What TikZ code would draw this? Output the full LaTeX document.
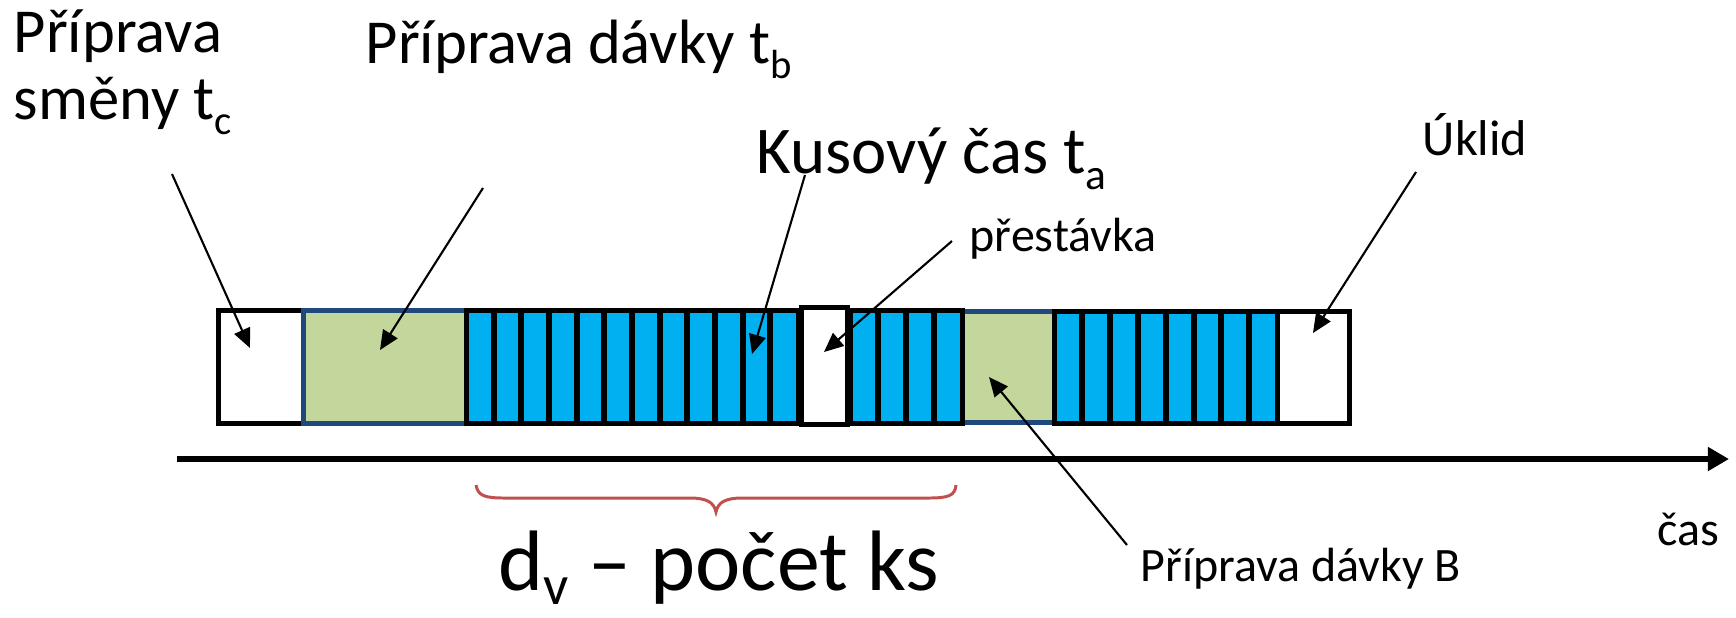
\documentclass[tikz,border=0pt]{standalone}
\usepackage{fontspec}
\setmainfont{Carlito}
\usetikzlibrary{arrows.meta}
\definecolor{grn}{HTML}{C3D69B}
\definecolor{blu}{HTML}{00B0F0}
\definecolor{nav}{HTML}{1F497D}
\definecolor{brc}{HTML}{C0504D}
\newcommand\lowsub[2][0.25em]{\raisebox{-#1}{\scalebox{0.65}{#2}}}
\begin{document}
\begin{tikzpicture}[x=0.01cm,y=-0.01cm,
  lbl/.style={anchor=base west, inner sep=0pt, font=\fontsize{17.8}{20}\selectfont, align=left},
  sml/.style={anchor=base west, inner sep=0pt, font=\fontsize{13.65}{16}\selectfont},
  huge/.style={anchor=base west, inner sep=0pt, font=\fontsize{24.4}{28}\selectfont},
  ptr/.style={draw=black, line width=0.6pt, -{Triangle[length=5.5pt,width=4.8pt]}},
  frm/.style={line width=1.42pt},
  divl/.style={line width=1.7pt, draw=black},
  axis/.style={line width=1.7pt, -{Triangle[length=6pt,width=6.5pt]}},
  brace/.style={draw=brc, line width=0.85pt}
]
\useasboundingbox (0,0) rectangle (1736,617);

% boxes
\draw[frm, fill=white, draw=black] (218.5,310.5) rectangle (303,423.5);
\draw[frm, fill=grn, draw=nav] (303,310.5) rectangle (466,423.5);
\draw[frm, fill=grn, draw=nav] (962,311) rectangle (1054,422);
\draw[frm, fill=blu, draw=black] (466,310.5) rectangle (798,423.5);
\foreach \k in {1,...,11} \draw[divl] ({466+\k*27.67},310.5) -- ({466+\k*27.67},423.5);
\draw[frm, fill=blu, draw=black] (850,310.5) rectangle (962,423.5);
\foreach \k in {1,...,3} \draw[divl] ({850+\k*28},310.5) -- ({850+\k*28},423.5);
\draw[frm, fill=blu, draw=black] (1054,311) rectangle (1277,423.5);
\foreach \k in {1,...,7} \draw[divl] ({1054+\k*27.9},311) -- ({1054+\k*27.9},423.5);
\draw[frm, fill=white, draw=black] (801,307.5) rectangle (847.5,424.5);
\draw[frm, fill=white, draw=black] (1277,311) rectangle (1349.5,423);

% axis
\coordinate (ax0) at (177,459);
\coordinate (ax1) at (1729,459);
\draw[axis] (ax0) -- (ax1);

% brace
\draw[brace] (476,485) .. controls (478,496) and (485,498) .. (505,498) -- (690,498)
  .. controls (706,498) and (714,502) .. (716,512)
  .. controls (718,502) and (726,498) .. (742,498) -- (928,498)
  .. controls (948,498) and (955,496) .. (956,485);

% labels
\node[lbl] (smena1) at (13,52) {Příprava};
\node[lbl] (smena2) at (13,119) {směny t\lowsub{c}};
\node[lbl] (davka) at (365,63) {Příprava dávky t\lowsub{b}};
\node[lbl, font=\fontsize{19}{22}\selectfont] (kus) at (756,173) {Kusový čas t\lowsub{a}};
\node[sml] (prest) at (969,251) {přestávka};
\node[sml, font=\fontsize{14.3}{16}\selectfont] (uklid) at (1422,155) {Úklid};
\node[sml] (cas) at (1657,545) {čas};
\node[sml] (davkaB) at (1140,581) {Příprava dávky B};
\node[huge] (pocet) at (498,590) {d\lowsub[0.17em]{v} – počet ks};

% pointer ends
\coordinate (s1) at (172,174); \coordinate (e1) at (250,348);
\coordinate (s2) at (483,188); \coordinate (e2) at (380,350);
\coordinate (s3) at (805,175); \coordinate (e3) at (752,354);
\coordinate (s4) at (952,241); \coordinate (e4) at (824,352);
\coordinate (s5) at (1416,172); \coordinate (e5) at (1313,333);
\coordinate (s6) at (1127,545); \coordinate (e6) at (989,377);
\draw[ptr] (s1) -- (e1);
\draw[ptr] (s2) -- (e2);
\draw[ptr] (s3) -- (e3);
\draw[ptr] (s4) -- (e4);
\draw[ptr] (s5) -- (e5);
\draw[ptr] (s6) -- (e6);
\end{tikzpicture}
\end{document}
